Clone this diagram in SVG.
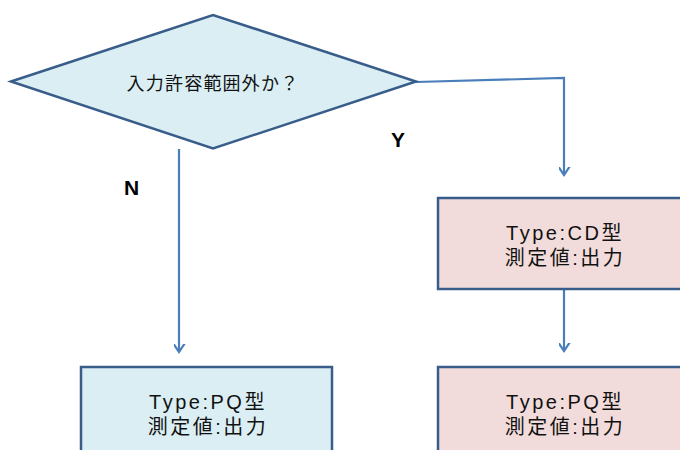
<svg xmlns="http://www.w3.org/2000/svg" width="680" height="450" viewBox="0 0 680 450">
<defs>
<marker id="arr" markerUnits="userSpaceOnUse" markerWidth="16" markerHeight="16" viewBox="-8 -10 16 14" refX="0" refY="0" orient="auto-start-reverse">
<path d="M-6,-9 L0,0 L6,-9" fill="none" stroke="#4A7EBB" stroke-width="2.2" transform="rotate(-90)"/>
</marker>
<style>
.node{stroke:#385D8A;stroke-width:2.5}
.blue{fill:#DAEEF3}
.pink{fill:#F2DCDB}
.t{font-family:"Liberation Sans","Noto Sans CJK JP",sans-serif;font-size:20px;fill:#111;text-anchor:middle;letter-spacing:2.5px}
.dt{font-family:"Noto Sans CJK JP",sans-serif;font-size:18px;fill:#111;text-anchor:middle;letter-spacing:1.2px}
.lbl{font-family:"Liberation Sans",sans-serif;font-size:21px;font-weight:bold;fill:#000}
.con{fill:none;stroke:#4A7EBB;stroke-width:2.2}
</style>
</defs>
<g id="connectors">
<polyline class="con" points="416,82 564,78 564,175" marker-end="url(#arr)"/>
<line class="con" x1="179" y1="149" x2="179" y2="352" marker-end="url(#arr)"/>
<line class="con" x1="564" y1="289" x2="564" y2="351" marker-end="url(#arr)"/>
<text class="lbl" x="391" y="147">Y</text>
<text class="lbl" x="124" y="195">N</text>
</g>
<g id="decision">
<polygon class="node blue" points="11,81.5 213,15 416,81.5 213,148.5"/>
<text class="dt" x="213" y="90">入力許容範囲外か？</text>
</g>
<g id="cd">
<rect class="node pink" x="438" y="198" width="252" height="91"/>
<text class="t" x="565" y="240">Type:CD型</text>
<text class="t" x="565" y="265">測定値:出力</text>
</g>
<g id="pq-left">
<rect class="node blue" x="81" y="367" width="251" height="100"/>
<text class="t" x="208" y="409">Type:PQ型</text>
<text class="t" x="208" y="434">測定値:出力</text>
</g>
<g id="pq-right">
<rect class="node pink" x="438" y="367" width="252" height="100"/>
<text class="t" x="565" y="409">Type:PQ型</text>
<text class="t" x="565" y="434">測定値:出力</text>
</g>
</svg>
